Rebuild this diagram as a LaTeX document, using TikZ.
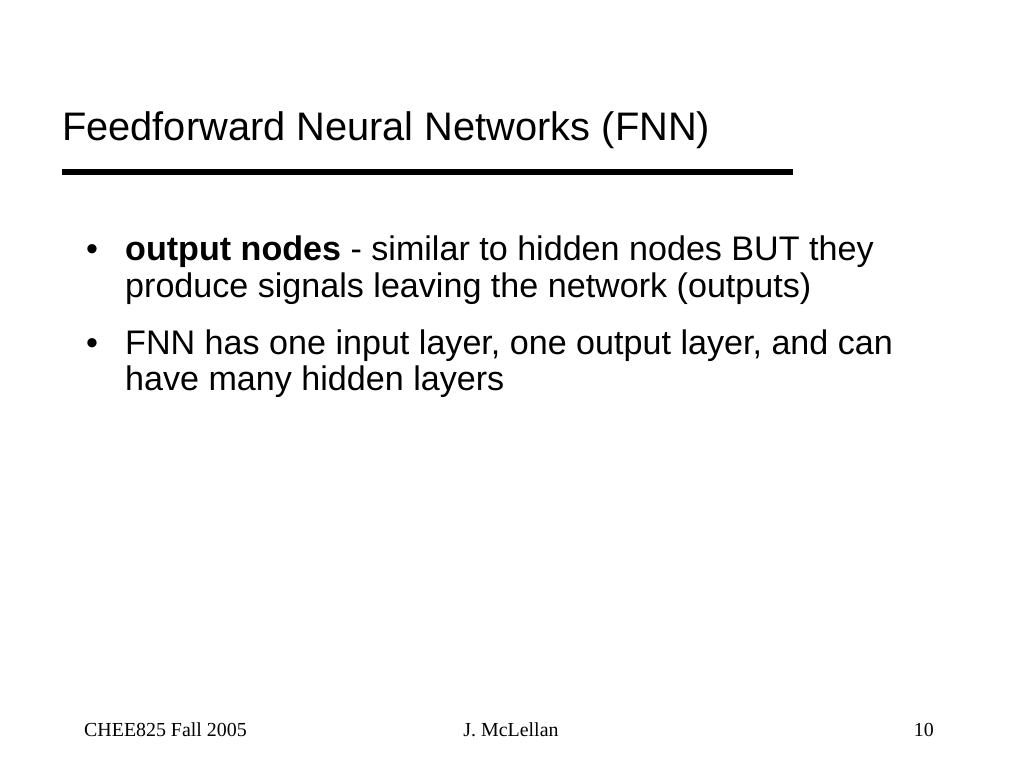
\documentclass[tikz,border=0pt]{standalone}
\usepackage{fontspec}
\setmainfont{Liberation Sans}
\newfontfamily\footfont{Liberation Serif}
\begin{document}
\begin{tikzpicture}[x=1pt,y=-1pt,
        title/.style={anchor=base west, inner sep=0pt, font=\fontsize{39.8}{47}\selectfont},
        line/.style={anchor=base west, inner sep=0pt, font=\fontsize{34.1}{41}\selectfont},
        foot/.style={inner sep=0pt, font=\footfont\fontsize{19.9}{24}\selectfont}]

        \useasboundingbox[fill=white] (0,0) rectangle (1024,768);

        \node[title] (T) at (62,140) {Feedforward Neural Networks (FNN)};
        \fill (62,169) rectangle (793,175);

        \node[line] (b1) at (86,260) {\textbullet};
        \node[line] (l1) at (125,260) {\textbf{output nodes} - similar to hidden nodes BUT they};
        \node[line] (l2) at (125,297) {produce signals leaving the network (outputs)};
        \node[line] (b2) at (86,354) {\textbullet};
        \node[line] (l3) at (125,354) {FNN has one input layer, one output layer, and can};
        \node[line] (l4) at (125,390) {have many hidden layers};

        \node[foot, anchor=base west] (F1) at (84,736) {CHEE825 Fall 2005};
        \node[foot, anchor=base] (F2) at (511,736) {J. McLellan};
        \node[foot, anchor=base east] (F3) at (934,736) {10};
    \end{tikzpicture}
\end{document}
